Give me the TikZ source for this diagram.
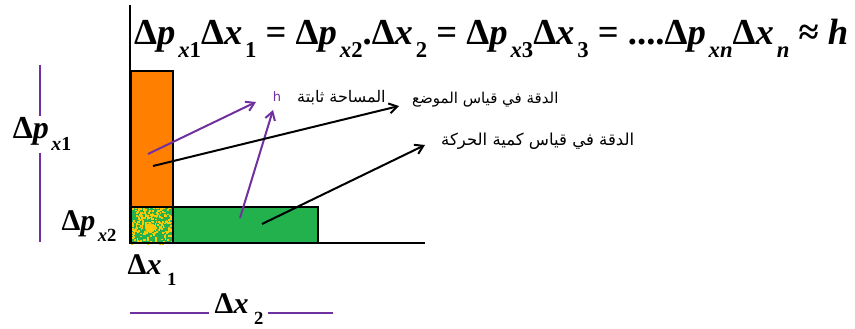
\documentclass[tikz,border=0pt]{standalone}
\usepackage{fontspec}
\setmainfont{Liberation Serif}
\newfontfamily\arabicfont[Script=Arabic]{DejaVu Sans}
\newfontfamily\labelsans{DejaVu Sans}
\TeXXeTstate=1
\usetikzlibrary{arrows.meta}
\definecolor{orangebar}{RGB}{255,127,0}
\definecolor{greenbar}{RGB}{34,177,76}
\definecolor{speckle}{RGB}{255,200,0}
\definecolor{violet}{RGB}{112,48,160}
\newcommand{\lowsub}[1]{\hspace{0.08em}\raisebox{-0.35em}{\scalebox{0.62}{#1}}}
\newcommand{\Dp}[1]{Δ\textit{p}\lowsub{\textit{x}#1}}
\newcommand{\Dx}[1]{Δ\textit{x}\lowsub{#1}}
\begin{document}
\begin{tikzpicture}[x=1pt, y=-1pt,
  every node/.style={inner sep=0pt},
  axis/.style={line width=2.4pt},
  bar/.style={draw=black, line width=2.2pt},
  span/.style={draw=violet, line width=2.2pt},
  blackarrow/.style={line width=2pt, -{Straight Barb[length=8pt,width=10pt]}},
  violetarrow/.style={violet, line width=2pt, -{Straight Barb[length=8pt,width=10pt]}},
  arabic/.style={font=\arabicfont\fontsize{15}{17}\selectfont},
  big/.style={font=\bfseries\fontsize{36.6}{40}\selectfont}]
  \useasboundingbox (0,0) rectangle (855,329);
  % bars
  \fill[greenbar] (131,207) rectangle (173,243);
  \pgfmathsetseed{11}
  \foreach \i in {1,...,260}
    \fill[speckle] ({131+42*rnd},{207+36*rnd}) rectangle +(1.8,1.8);
  \fill[speckle] (150,228) circle (5);
  \draw[bar, fill=orangebar] (131,71) rectangle (173,207);
  \draw[bar, fill=greenbar] (173,207) rectangle (318,243);
  \draw[bar] (131,207) rectangle (173,243);
  % axes
  \coordinate (origin) at (130,243);
  \coordinate (ytop) at (130,5);
  \coordinate (xend) at (425,243);
  \draw[axis] (ytop) -- (origin) -- (xend);
  % equation
  \node[big, anchor=base west] (law) at (134,45)
    {\Dp{1}\Dx{1} = \Dp{2}.\Dx{2} = \Dp{3}\Dx{3} = ....\Dp{\textit{n}}\Dx{\textit{n}} ≈ \textit{h}};
  % labels
  \node[font=\labelsans\fontsize{13}{15}\selectfont, text=violet] (hlab) at (277,97) {h};
  \node[arabic, font=\arabicfont\fontsize{16}{18}\selectfont, anchor=west] (area) at (297,98) {\beginR المساحة ثابتة\endR};
  \node[arabic, anchor=west] (posacc) at (412,100) {\beginR الدقة في قياس الموضع\endR};
  \node[arabic, font=\arabicfont\fontsize{16.5}{18}\selectfont, anchor=west] (momacc) at (441,141) {\beginR الدقة في قياس كمية الحركة\endR};
  % arrows
  \coordinate (orangea) at (148,154);
  \coordinate (orangeb) at (153,166);
  \coordinate (greena) at (240,218);
  \coordinate (greenb) at (262,224);
  \draw[violetarrow] (orangea) -- (256,102);
  \draw[violetarrow] (greena) -- (273,110);
  \draw[blackarrow] (orangeb) -- (399,106);
  \draw[blackarrow] (greenb) -- (425,145);
  % dp x1
  \node[font=\bfseries\fontsize{32}{34}\selectfont] (dp1) at (42,134) {\Dp{1}};
  \draw[span] (40,65) -- (40,116);
  \draw[span] (40,153) -- (40,242);
  % dp x2
  \node[font=\bfseries\fontsize{30}{32}\selectfont] (dp2) at (89,226) {\Dp{2}};
  % dx 1
  \node[font=\bfseries\fontsize{30}{32}\selectfont] (dx1) at (152,270) {\Dx{\,1}};
  % dx 2
  \node[font=\bfseries\fontsize{30}{32}\selectfont] (dx2) at (239,309) {\Dx{\,2}};
  \draw[span] (130,313) -- ([xshift=-5pt]dx2.west |- 0,313);
  \draw[span] ([xshift=4pt]dx2.east |- 0,313) -- (333,313);
\end{tikzpicture}
\end{document}
